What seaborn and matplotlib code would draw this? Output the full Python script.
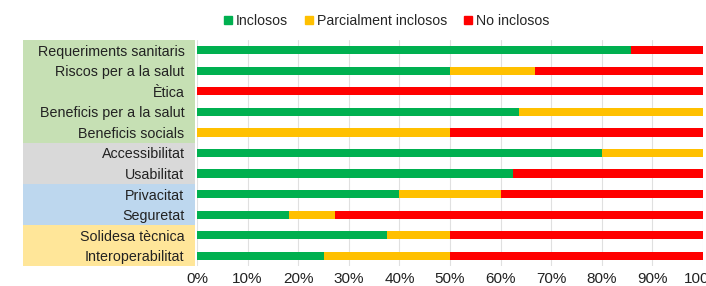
import matplotlib
matplotlib.use("Agg")
import matplotlib.pyplot as plt
import matplotlib.transforms as mtransforms
from matplotlib.patches import Rectangle
from matplotlib.lines import Line2D
import seaborn as sns
import numpy as np
import pandas as pd

categories = ["Requeriments sanitaris", "Riscos per a la salut", "Ètica",
              "Beneficis per a la salut", "Beneficis socials", "Accessibilitat",
              "Usabilitat", "Privacitat", "Seguretat", "Solidesa tècnica",
              "Interoperabilitat"]
inclosos = [85.7, 50.0, 0.0, 63.6, 0.0, 80.0, 62.5, 40.0, 18.2, 37.5, 25.0]
parcial = [0.0, 16.7, 0.0, 36.4, 50.0, 20.0, 0.0, 20.0, 9.1, 12.5, 25.0]
no_incl = [14.3, 33.3, 100.0, 0.0, 50.0, 0.0, 37.5, 40.0, 72.7, 50.0, 50.0]
series_names = ["Inclosos", "Parcialment inclosos", "No inclosos"]
colors = ["#00B050", "#FFC000", "#FF0000"]
group_colors = ["#C6E0B4"] * 5 + ["#D9D9D9"] * 2 + ["#BDD7EE"] * 2 + ["#FFE699"] * 2
xticks = [0, 10, 20, 30, 40, 50, 60, 70, 80, 90, 100]

sns.set_style("white")
plt.rcParams['font.family'] = ['Liberation Sans', 'DejaVu Sans']

fig = plt.figure(figsize=(7.06, 2.86), dpi=100)
ax = fig.add_axes([197/706, 1-266/286, 506/706, 226/286])

df = pd.DataFrame({"cat": categories, "g": inclosos, "y": parcial, "r": no_incl})
df["cum_g"] = df["g"]
df["cum_y"] = df["g"] + df["y"]
df["cum_r"] = df["g"] + df["y"] + df["r"]

for col, c in zip(["cum_r", "cum_y", "cum_g"], colors[::-1]):
    sns.barplot(data=df, x=col, y="cat", orient="h", color=c, width=0.4,
                saturation=1, ax=ax, zorder=3, linewidth=0)

ax.set_xlim(0, 100)
ax.set_ylim(len(categories) - 0.5, -0.5)
ax.set_xticks(xticks)
ax.set_xticklabels([f"{t}%" for t in xticks], fontsize=11, color="#222222")
ax.set_xlabel("")
ax.set_ylabel("")
ax.tick_params(axis="y", length=0, labelsize=10.3, colors="#222222", pad=9)
ax.tick_params(axis="x", length=0, pad=4)
ax.grid(axis="x", color="#E0E0E0", linewidth=0.8, zorder=0)
for s in ax.spines.values():
    s.set_visible(False)

trans = mtransforms.blended_transform_factory(ax.transAxes, ax.transData)
x0 = (23 - 197) / 506
x1 = (195 - 197) / 506
for i, gc in enumerate(group_colors):
    ax.add_patch(Rectangle((x0, i - 0.5), x1 - x0, 1.0, transform=trans,
                           facecolor=gc, edgecolor="none", clip_on=False, zorder=0))

handles = [Line2D([0], [0], marker="s", linestyle="none", markersize=6,
                  markerfacecolor=c, markeredgecolor=c) for c in colors]
fig.legend(handles, series_names, loc="center", bbox_to_anchor=(385/706, 1-21/286),
           ncol=3, frameon=False, fontsize=10.2, handletextpad=0.05,
           columnspacing=1.0, handlelength=1.0)

fig.savefig("out.png", dpi=100)
